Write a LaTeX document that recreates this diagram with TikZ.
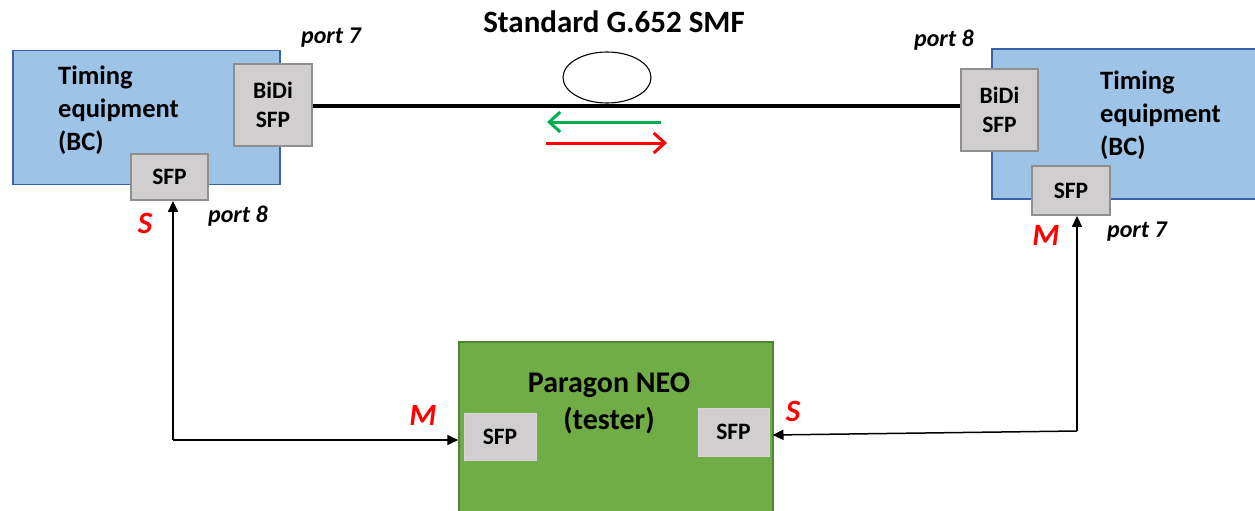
\documentclass[tikz,border=0pt]{standalone}
\usepackage{fontspec}
\setmainfont{Carlito}
\usetikzlibrary{shapes.geometric,arrows.meta}
\definecolor{bluefill}{HTML}{9DC3E6}
\definecolor{blueline}{HTML}{3A62A6}
\definecolor{greenfill}{HTML}{70AD47}
\definecolor{greenline}{HTML}{548235}
\definecolor{sfpfill}{HTML}{D0CECE}
\definecolor{sfpline}{HTML}{8F8F8F}
\definecolor{arrgreen}{HTML}{00B050}
\definecolor{redlab}{HTML}{FF0000}
\tikzset{
  bluebox/.style={draw=blueline, fill=bluefill, line width=1.5pt, inner sep=0pt},
  greenbox/.style={draw=greenline, fill=greenfill, line width=1.5pt, inner sep=0pt},
  sfpbox/.style={draw=sfpline, fill=sfpfill, line width=1.8pt, inner sep=0pt, align=center,
    font=\bfseries\fontsize{23.5}{29}\selectfont},
  eqtext/.style={align=left, inner sep=0pt, font=\bfseries\fontsize{26.5}{33}\selectfont},
  portlab/.style={inner sep=0pt, font=\bfseries\itshape\fontsize{24}{28}\selectfont},
  smlab/.style={inner sep=0pt, text=redlab, font=\bfseries\itshape\fontsize{31}{34}\selectfont},
  conn/.style={line width=1.5pt, -{Triangle[length=11pt,width=10pt]}},
  dirarrow/.style={line width=3pt, -{Straight Barb[length=11pt,width=20pt]}},
}
\begin{document}
\begin{tikzpicture}[x=1pt,y=-1pt]
\useasboundingbox (0,0) rectangle (1255,511);
% left equipment
\node[bluebox, minimum width=267pt, minimum height=134pt] (eqL) at (146.5,117.5) {};
\node[eqtext, anchor=west] (eqLt) at (58,110) {Timing\\equipment\\(BC)};
\node[sfpbox, minimum width=78pt, minimum height=82pt] (bidiL) at (273,105) {BiDi\\SFP};
\node[sfpbox, minimum width=77pt, minimum height=46pt] (sfpL) at (169.5,177) {SFP};
% right equipment
\node[bluebox, minimum width=272pt, minimum height=150pt] (eqR) at (1128,124) {};
\node[eqtext, anchor=west] (eqRt) at (1100,115) {Timing\\equipment\\(BC)};
\node[sfpbox, minimum width=77pt, minimum height=82pt] (bidiR) at (999.5,110) {BiDi\\SFP};
\node[sfpbox, minimum width=78pt, minimum height=49pt] (sfpR) at (1071,190.5) {SFP};
% tester
\node[greenbox, minimum width=314pt, minimum height=180pt] (tst) at (616,432) {};
\node[eqtext, align=center, font=\bfseries\fontsize{30}{37}\selectfont] (tstt) at (609,403) {Paragon NEO\\(tester)};
\node[sfpbox, draw=sfpfill!85!white, line width=1pt, minimum width=72pt, minimum height=47pt] (sfpT1) at (500,436.5) {SFP};
\node[sfpbox, draw=sfpfill!85!white, line width=1pt, minimum width=71pt, minimum height=48pt] (sfpT2) at (733.5,432) {SFP};
% fiber
\draw[line width=4pt] (bidiL.east |- 0,106) -- (bidiR.west |- 0,106);
\node[draw, ellipse, line width=1.1pt, minimum width=88pt, minimum height=51pt, inner sep=0pt] (loop) at (607,77.5) {};
\node[inner sep=0pt, font=\bfseries\fontsize{31}{36}\selectfont] (title) at (614,22) {Standard G.652 SMF};
\coordinate (gA) at (661,122);
\coordinate (gB) at (547,122);
\coordinate (rA) at (546,143);
\coordinate (rB) at (667,143);
\draw[dirarrow, draw=arrgreen] (gA) -- (gB);
\draw[dirarrow, draw=redlab] (rA) -- (rB);
% labels
\node[portlab] (p7L) at (331,38) {port 7};
\node[portlab] (p8L) at (238,216) {port 8};
\node[portlab] (p8R) at (944,40) {port 8};
\node[portlab] (p7R) at (1137,232) {port 7};
\node[smlab] (sL) at (145,223) {S};
\node[smlab] (mR) at (1046,235) {M};
\node[smlab] (mB) at (423,415) {M};
\node[smlab] (sB) at (793,411) {S};
% connectors
\coordinate (cL) at (173,440);
\coordinate (cR) at (1077,431);
\draw[conn] (cL) -- (cL |- sfpL.south);
\draw[conn] (cL) -- (cL -| tst.west);
\draw[conn] (cR) -- (cR |- sfpR.south);
\draw[conn] (cR) -- ([shift={(3,3)}]sfpT2.east);
\end{tikzpicture}
\end{document}
